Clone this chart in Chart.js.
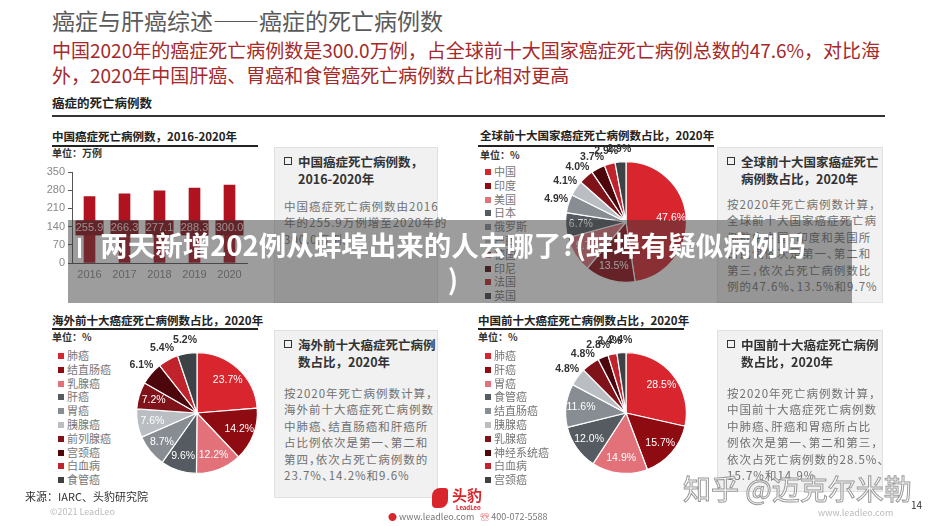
<!DOCTYPE html>
<html lang="zh">
<head>
<meta charset="UTF-8">
<title>癌症与肝癌综述——癌症的死亡病例数</title>
<script src="https://cdn.jsdelivr.net/npm/chart.js"></script>
<style>
    body {
        margin: 0;
        width: 935px;
        height: 526px;
        overflow: hidden;
        background: #fff;
        position: relative;
        font-family: "Noto Sans CJK SC", sans-serif;
    }
    .abs { position: absolute; white-space: nowrap; }
    .title { left: 52px; top: 6px; font-size: 23px; color: #5a5a5a; line-height: 28px; }
    .sub { left: 52px; font-size: 19px; color: #a3292b; line-height: 24px; }
    .section { left: 52px; top: 93px; font-size: 12.5px; font-weight: bold; color: #222; }
    .rule { background: #333; height: 2px; }
    .ptitle { font-size: 11.5px; font-weight: bold; color: #222; line-height: 16px; }
    .pline { background: #222; height: 1.5px; }
    .unit { font-size: 10px; font-weight: bold; color: #333; line-height: 14px; }
    .legend { font-size: 11px; color: #777; line-height: 13.8px; }
    .legend div { position: relative; padding-left: 9px; }
    .legend span { position: absolute; left: 0; top: 4px; width: 6px; height: 6px; }
    .box { background: #f1f1f1; border: 1px solid #e0e0e0; box-sizing: border-box; }
    .box .bt { position: absolute; left: 9px; top: 5px; font-size: 12.5px; font-weight: bold; color: #333; line-height: 17px; padding-left: 14px; }
    .box .bt i { position: absolute; left: 0; top: 4px; width: 6px; height: 6px; border: 1.5px solid #333; }
    .box .bd { position: absolute; left: 9px; font-size: 11.5px; color: #707070; line-height: 16.4px; letter-spacing: 1px; font-feature-settings: "halt"; }
    canvas { position: absolute; }
    .banner { left: 68px; top: 220px; width: 784px; height: 83px; background: rgba(60,60,60,0.5); }
    .btext { left: 58px; top: 227px; width: 790px; text-align: center; font-size: 27.5px; font-weight: bold; color: #fff; line-height: 34px; }
    .foot { font-size: 11px; color: #333; }
    .mark { font-size: 28px; color: rgba(255,255,255,0.7); -webkit-text-stroke: 1px #9a9a9a; }
</style>
</head>
<body>
    <div class="abs title">癌症与肝癌综述——癌症的死亡病例数</div>
    <div class="abs sub" style="top:38px;">中国2020年的癌症死亡病例数是300.0万例，占全球前十大国家癌症死亡病例总数的47.6%，对比海</div>
    <div class="abs sub" style="top:63px;">外，2020年中国肝癌、胃癌和食管癌死亡病例数占比相对更高</div>
    <div class="abs section">癌症的死亡病例数</div>
    <div class="abs rule" style="left:52px; top:115px; width:833px;"></div>

    <!-- top left -->
    <div class="abs ptitle" style="left:52px; top:128px;">中国癌症死亡病例数，2016-2020年</div>
    <div class="abs pline" style="left:52px; top:145px; width:206px;"></div>
    <div class="abs unit" style="left:52px; top:146px;">单位：万例</div>
    <canvas id="barChart" width="225" height="125" style="left:40px; top:160px;"></canvas>
    <div class="abs box" style="left:274px; top:147px; width:164px; height:156px;">
        <div class="bt"><i></i>中国癌症死亡病例数，<br>2016-2020年</div>
        <div class="bd" style="top:50px;">中国癌症死亡病例数由2016<br>年的255.9万例增至2020年的<br>300.0万例。</div>
    </div>

    <!-- top right -->
    <div class="abs ptitle" style="left:480px; top:127px;">全球前十大国家癌症死亡病例数占比，2020年</div>
    <div class="abs pline" style="left:478px; top:145px; width:236px;"></div>
    <div class="abs unit" style="left:480px; top:148px;">单位：%</div>
    <div class="abs legend" id="legGlobal" style="left:485px; top:165px;"></div>
    <canvas id="pieGlobal" width="230" height="170" style="left:511px; top:137px;"></canvas>
    <div class="abs box" style="left:717px; top:147px; width:166px; height:156px;">
        <div class="bt"><i></i>全球前十大国家癌症死亡<br>病例数占比，2020年</div>
        <div class="bd" style="top:48px;">按2020年死亡病例数计算，<br>全球前十大国家癌症死亡病<br>例数中中国、印度和美国所<br>占比例依次是第一、第二和<br>第三，依次占死亡病例数比<br>例的47.6%、13.5%和9.7%</div>
    </div>

    <!-- bottom left -->
    <div class="abs ptitle" style="left:52px; top:312px;">海外前十大癌症死亡病例数占比，2020年</div>
    <div class="abs pline" style="left:52px; top:328px; width:206px;"></div>
    <div class="abs unit" style="left:52px; top:330px;">单位：%</div>
    <div class="abs legend" id="legOverseas" style="left:58px; top:349px;"></div>
    <canvas id="pieOverseas" width="230" height="170" style="left:82px; top:328px;"></canvas>
    <div class="abs box" style="left:274px; top:330px; width:164px; height:168px;">
        <div class="bt"><i></i>海外前十大癌症死亡病例<br>数占比，2020年</div>
        <div class="bd" style="top:54px;">按2020年死亡病例数计算，<br>海外前十大癌症死亡病例数<br>中肺癌、结直肠癌和肝癌所<br>占比例依次是第一、第二和<br>第四，依次占死亡病例数的<br>23.7%、14.2%和9.6%</div>
    </div>

    <!-- bottom right -->
    <div class="abs ptitle" style="left:478px; top:312px;">中国前十大癌症死亡病例数占比，2020年</div>
    <div class="abs pline" style="left:478px; top:328px; width:206px;"></div>
    <div class="abs unit" style="left:478px; top:330px;">单位：%</div>
    <div class="abs legend" id="legChina" style="left:485px; top:349px;"></div>
    <canvas id="pieChina" width="230" height="170" style="left:511px; top:328px;"></canvas>
    <div class="abs box" style="left:717px; top:330px; width:166px; height:162px;">
        <div class="bt"><i></i>中国前十大癌症死亡病例<br>数占比，2020年</div>
        <div class="bd" style="top:54px;">按2020年死亡病例数计算，<br>中国前十大癌症死亡病例数<br>中肺癌、肝癌和胃癌所占比<br>例依次是第一、第二和第三，<br>依次占死亡病例数的28.5%、<br>15.7%和14.9%</div>
    </div>

    <!-- footer -->
    <div class="abs foot" style="left:25px; top:488px;">来源：IARC、头豹研究院</div>
    <div class="abs" style="left:50px; top:505px; font-size:9px; color:#bbb;">©2021 LeadLeo</div>
    <div class="abs" style="left:432px; top:488px; width:16px; height:20px; background:#d8262c; border-radius:8px 3px 8px 4px;"></div>
    <div class="abs" style="left:452px; top:484px; font-size:15px; font-weight:bold; color:#d8262c;">头豹</div>
    <div class="abs" style="left:456px; top:503px; font-size:6px; font-weight:bold; color:#d8262c;">LeadLeo</div>
    <div class="abs" style="left:388px; top:510px; font-size:9px; color:#777;"><span style="color:#d8262c;">●</span> www.leadleo.com &nbsp; <span style="color:#d8262c;">☏</span> 400-072-5588</div>
    <div class="abs mark" style="left:683px; top:468px;">知乎 @迈克尔米勒</div>
    <div class="abs" style="left:818px; top:506px; font-size:9px; color:#bbb;">www.leadleo.com</div>
    <div class="abs" style="left:911px; top:497px; font-size:10px; color:#333;">14</div>

    <!-- overlay banner -->
    <div class="abs banner"></div>
    <div class="abs" style="left:78px; top:238px; width:3px; height:20px; background:#fff;"></div>
    <div class="abs btext">两天新增202例从蚌埠出来的人去哪了?(蚌埠有疑似病例吗<br>)</div>

<script>
    // 中国癌症死亡病例数（万例）
    const barYears = ['2016', '2017', '2018', '2019', '2020'];
    const barDeaths = [255.9, 266.3, 277.1, 288.3, 300.0];
    const barAxisMax = 350;
    const barAxisStep = 70;

    // 全球前十大国家癌症死亡病例数占比（%）
    const globalLabels = ['中国', '印度', '美国', '日本', '俄罗斯', '巴西', '德国', '印尼', '法国', '英国'];
    const globalShares = [47.6, 13.5, 9.7, 6.7, 4.9, 4.1, 4.0, 3.7, 2.9, 2.9];

    // 海外前十大癌症死亡病例数占比（%）
    const overseasLabels = ['肺癌', '结直肠癌', '乳腺癌', '肝癌', '胃癌', '胰腺癌', '前列腺癌', '宫颈癌', '白血病', '食管癌'];
    const overseasShares = [23.7, 14.2, 12.2, 9.6, 8.7, 7.6, 7.2, 6.1, 5.4, 5.2];

    // 中国前十大癌症死亡病例数占比（%）
    const chinaLabels = ['肺癌', '肝癌', '胃癌', '食管癌', '结直肠癌', '胰腺癌', '乳腺癌', '神经系统癌', '白血病', '宫颈癌'];
    const chinaShares = [28.5, 15.7, 14.9, 12.0, 11.6, 4.8, 4.8, 2.8, 2.4, 2.4];

    const sliceColors = ['#d8252e', '#8e0b12', '#e3717a', '#555b61', '#878d93',
                         '#babec2', '#80121a', '#4c060c', '#c1232c', '#3d4247'];
    const numFont = '"Liberation Sans", Arial, sans-serif';

    // dark label boxes on the bars
    const barBoxes = {
        id: 'barBoxes',
        afterDatasetsDraw(chart) {
            const ctx = chart.ctx;
            const yPix = chart.scales.y.getPixelForValue(135);
            chart.getDatasetMeta(0).data.forEach((bar, i) => {
                ctx.save();
                ctx.fillStyle = '#8a0c16';
                ctx.fillRect(bar.x - 14, yPix - 7.5, 28, 15);
                ctx.fillStyle = '#f3dede';
                ctx.font = '11px ' + numFont;
                ctx.textAlign = 'center';
                ctx.textBaseline = 'middle';
                ctx.fillText(barDeaths[i].toFixed(1), bar.x, yPix + 0.5);
                ctx.restore();
            });
        }
    };

    // percentage labels inside / outside the slices
    const pieLabels = {
        id: 'pieLabels',
        afterDatasetsDraw(chart, args, opts) {
            const ctx = chart.ctx;
            const values = chart.data.datasets[0].data;
            chart.getDatasetMeta(0).data.forEach((arc, i) => {
                const v = values[i];
                const mid = (arc.startAngle + arc.endAngle) / 2;
                const inside = v >= opts.minInside;
                const r = inside ? arc.outerRadius * 0.75 : arc.outerRadius + 13;
                ctx.save();
                ctx.font = (inside ? '' : 'bold ') + '10.5px ' + numFont;
                ctx.fillStyle = inside ? '#fff' : '#333';
                ctx.textAlign = 'center';
                ctx.textBaseline = 'middle';
                ctx.fillText(v.toFixed(1) + '%', arc.x + Math.cos(mid) * r, arc.y + Math.sin(mid) * r);
                ctx.restore();
            });
        }
    };

    new Chart(document.getElementById('barChart'), {
        type: 'bar',
        data: {
            labels: barYears,
            datasets: [{ data: barDeaths, backgroundColor: '#b0121f', barThickness: 11 }]
        },
        options: {
            responsive: false,
            animation: false,
            layout: { padding: { top: 12, right: 18 } },
            plugins: { legend: { display: false }, tooltip: { enabled: false } },
            scales: {
                x: {
                    grid: { drawOnChartArea: false, drawTicks: false },
                    border: { color: '#555' },
                    ticks: { color: '#888', font: { size: 11, family: numFont }, padding: 5 },
                    afterFit(s) { s.height = 22; }
                },
                y: {
                    min: 0,
                    max: barAxisMax,
                    ticks: { stepSize: barAxisStep, color: '#888', font: { size: 11, family: numFont }, padding: 3 },
                    grid: { drawOnChartArea: false, tickLength: 4, color: '#555' },
                    border: { color: '#555' },
                    afterFit(s) { s.width = 32; }
                }
            }
        },
        plugins: [barBoxes]
    });

    function makeLegend(id, labels) {
        document.getElementById(id).innerHTML = labels.map((l, i) =>
            '<div><span style="background:' + sliceColors[i] + '"></span>' + l + '</div>').join('');
    }

    function makePie(id, labels, values, minInside) {
        return new Chart(document.getElementById(id), {
            type: 'pie',
            data: {
                labels: labels,
                datasets: [{ data: values, backgroundColor: sliceColors, borderColor: '#fff', borderWidth: 1.2 }]
            },
            options: {
                responsive: false,
                animation: false,
                layout: { padding: 24 },
                plugins: {
                    legend: { display: false },
                    tooltip: { enabled: false },
                    pieLabels: { minInside: minInside }
                }
            },
            plugins: [pieLabels]
        });
    }

    makeLegend('legGlobal', globalLabels);
    makeLegend('legOverseas', overseasLabels);
    makeLegend('legChina', chinaLabels);

    makePie('pieGlobal', globalLabels, globalShares, 5);
    makePie('pieOverseas', overseasLabels, overseasShares, 7);
    makePie('pieChina', chinaLabels, chinaShares, 10);
</script>
</body>
</html>
